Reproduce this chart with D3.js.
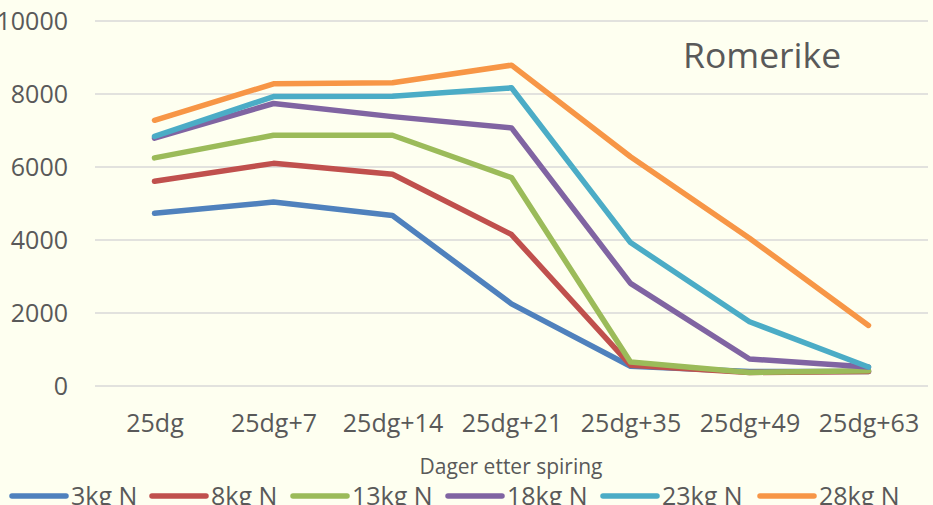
<!DOCTYPE html>
<html>
<head>
<meta charset="utf-8">
<script src="https://cdn.jsdelivr.net/npm/d3@7"></script>
<style>
    html, body { margin: 0; padding: 0; background: #fefff0; }
    svg { display: block; font-family: "Open Sans", sans-serif; }
</style>
</head>
<body>
<svg width="933" height="505"></svg>
<script>
// categories (days after sprouting)
const categories = ["25dg", "25dg+7", "25dg+14", "25dg+21", "25dg+35", "25dg+49", "25dg+63"];
const seriesNames = ["3kg N", "8kg N", "13kg N", "18kg N", "23kg N", "28kg N"];
const colors = ["#4f81bd", "#c0504d", "#9bbb59", "#8064a2", "#4bacc6", "#f79646"];

const kg3  = [4730, 5040, 4670, 2250, 540, 400, 400];
const kg8  = [5610, 6100, 5800, 4150, 570, 370, 400];
const kg13 = [6250, 6870, 6870, 5710, 660, 370, 420];
const kg18 = [6790, 7740, 7380, 7070, 2810, 740, 520];
const kg23 = [6840, 7930, 7940, 8170, 3930, 1760, 520];
const kg28 = [7280, 8280, 8310, 8790, 6280, 4050, 1660];
const allSeries = [kg3, kg8, kg13, kg18, kg23, kg28];

const yTicks = [0, 2000, 4000, 6000, 8000, 10000];

const svg = d3.select("svg");
const textColor = "#595959";

const x = d3.scalePoint().domain(categories).range([95, 928]).padding(0.5);
const y = d3.scaleLinear().domain([0, 10000]).range([386, 21]);

// gridlines
svg.append("g")
    .selectAll("line")
    .data(yTicks)
    .enter().append("line")
    .attr("x1", 95)
    .attr("x2", 928)
    .attr("y1", d => y(d))
    .attr("y2", d => y(d))
    .attr("stroke", "#d9d9d9")
    .attr("stroke-width", 1.5);

// y axis labels
const yAxis = svg.append("g")
    .attr("transform", "translate(80,0)")
    .call(d3.axisLeft(y).tickValues(yTicks).tickSize(0).tickPadding(12).tickFormat(d3.format("d")));
yAxis.select(".domain").remove();
yAxis.selectAll("text")
    .attr("fill", textColor)
    .style("font-size", "25px")
    .style("font-family", "Open Sans");

// x axis labels
const xAxis = svg.append("g")
    .attr("transform", "translate(0,404)")
    .call(d3.axisBottom(x).tickSize(0).tickPadding(10));
xAxis.select(".domain").remove();
xAxis.selectAll("text")
    .attr("fill", textColor)
    .style("font-size", "25px")
    .style("font-family", "Open Sans");

// lines
const line = d3.line()
    .x((d, i) => x(categories[i]))
    .y(d => y(d));

svg.append("g")
    .selectAll("path")
    .data(allSeries)
    .enter().append("path")
    .attr("d", line)
    .attr("fill", "none")
    .attr("stroke", (d, i) => colors[i])
    .attr("stroke-width", 5.5)
    .attr("stroke-linejoin", "round")
    .attr("stroke-linecap", "round");

// title
svg.append("text")
    .attr("x", 683)
    .attr("y", 68)
    .attr("fill", textColor)
    .style("font-size", "35.5px")
    .text("Romerike");

// axis title
svg.append("text")
    .attr("x", 511)
    .attr("y", 474)
    .attr("text-anchor", "middle")
    .attr("fill", textColor)
    .style("font-size", "21px")
    .text("Dager etter spiring");

// legend
const legendX = [12, 152, 293, 448, 603, 760];
const legend = svg.append("g")
    .selectAll("g")
    .data(seriesNames)
    .enter().append("g")
    .attr("transform", (d, i) => `translate(${legendX[i]},496)`);

legend.append("line")
    .attr("x1", 0)
    .attr("x2", 54)
    .attr("stroke", (d, i) => colors[i])
    .attr("stroke-width", 5.5)
    .attr("stroke-linecap", "round");

legend.append("text")
    .attr("x", 59)
    .attr("y", 9)
    .attr("fill", textColor)
    .style("font-size", "25px")
    .text(d => d);
</script>
</body>
</html>
